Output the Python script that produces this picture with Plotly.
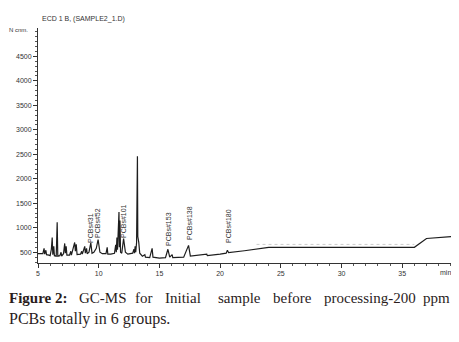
import plotly.graph_objects as go

# ---- data ----
rt_min = [5.0, 5.4, 5.5, 5.55, 5.65, 5.7, 5.9, 6.0, 6.1, 6.17, 6.22, 6.3, 6.35, 6.5, 6.58, 6.63,
          6.8, 6.9, 6.95, 7.1, 7.2, 7.25, 7.32, 7.38, 7.6, 7.7, 7.75, 7.95, 8.02, 8.08, 8.15, 8.22,
          8.5, 8.6, 8.65, 8.85, 8.9, 9.0, 9.05, 9.2, 9.35, 9.45, 9.6, 9.8, 9.95, 10.1, 10.3, 10.6,
          10.7, 10.75, 11.0, 11.3, 11.4, 11.45, 11.5, 11.55, 11.6, 11.63, 11.67, 11.7, 11.75, 11.8, 11.9,
          12.05, 12.2, 12.4, 12.8, 12.9, 12.95, 13.0, 13.05, 13.12, 13.14, 13.19, 13.22, 13.3, 13.38, 13.6,
          13.8, 13.85, 14.2, 14.4, 14.47, 15.0, 15.5, 15.7, 15.85, 16.05, 16.1, 17.0, 17.4, 17.55,
          18.9, 18.95, 20.0, 20.5, 20.6, 20.7, 22.0, 24.0, 36.0, 37.0, 39.1]
signal = [470, 470, 580, 460, 540, 450, 440, 430, 560, 800, 450, 620, 430, 420, 1110, 420,
          430, 500, 420, 470, 680, 480, 620, 440, 440, 520, 440, 600, 700, 520, 660, 450,
          460, 520, 460, 620, 480, 580, 470, 500, 690, 480, 500, 580, 760, 500, 470, 470,
          600, 460, 460, 480, 650, 500, 800, 550, 950, 700, 1320, 600, 1150, 500, 480,
          780, 500, 460, 480, 560, 480, 620, 500, 700, 2440, 2460, 820, 700, 480, 420,
          450, 400, 390, 580, 400, 380, 390, 560, 400, 450, 390, 400, 640, 420,
          460, 430, 460, 480, 540, 490, 530, 600, 600, 780, 820]

peak_labels = ["PCBs#31", "PCBs#52", "PCBs#101", "PCBs#153", "PCBs#138", "PCBs#180"]
peak_label_rt = [9.28, 9.94, 12.08, 15.70, 17.43, 20.64]
peak_label_base = [647, 750, 750, 586, 709, 647]

x_ticks = [5, 10, 15, 20, 25, 30, 35]
y_ticks = [500, 1000, 1500, 2000, 2500, 3000, 3500, 4000, 4500]

fig = go.Figure()
fig.add_trace(go.Scatter(x=rt_min, y=signal, mode="lines",
                         line=dict(color="#1e1e1e", width=1.2), hoverinfo="skip",
                         showlegend=False))
# faint dotted integration baseline
fig.add_trace(go.Scatter(x=[23.0, 36.0], y=[660, 660], mode="lines",
                         line=dict(color="#cccccc", width=1, dash="dot"),
                         showlegend=False, hoverinfo="skip"))

axis_font = dict(family="Liberation Sans, Arial, sans-serif", size=7, color="#333333")

# page body adds an 8px offset, so the figure is 8px smaller and margins shifted
PW, PH = 414, 235  # plot area size in px
fig.update_layout(
    width=451, height=334,
    margin=dict(l=30, r=7, t=20, b=79),
    paper_bgcolor="white", plot_bgcolor="white",
    xaxis=dict(range=[5, 39.1], tickvals=x_ticks, ticks="outside", ticklen=4,
               tickcolor="#333333", showline=True, linecolor="#333333", linewidth=1,
               showgrid=False, zeroline=False, tickfont=axis_font,
               minor=dict(dtick=1, ticks="outside", ticklen=2, tickcolor="#555555")),
    yaxis=dict(range=[280, 5080], tickvals=y_ticks, ticks="outside", ticklen=4,
               tickcolor="#333333", showline=True, linecolor="#333333", linewidth=1,
               showgrid=False, zeroline=False, tickfont=axis_font,
               minor=dict(dtick=100, ticks="outside", ticklen=2, tickcolor="#555555")),
)

anns = []
for lab, rt, base in zip(peak_labels, peak_label_rt, peak_label_base):
    anns.append(dict(x=rt, y=base, xref="x", yref="y", text=lab, textangle=-90,
                     showarrow=False, xanchor="center", yanchor="bottom",
                     font=dict(family="Liberation Sans, Arial, sans-serif", size=7, color="#333333")))

anns.append(dict(x=2 / PW, y=1 + 9 / PH, xref="paper", yref="paper", text="ECD 1 B, (SAMPLE2_1.D)",
                 showarrow=False, xanchor="left", yanchor="middle",
                 font=dict(family="Liberation Sans, Arial, sans-serif", size=7, color="#333333")))
anns.append(dict(x=-8 / PW, y=1 - 2 / PH, xref="paper", yref="paper", text="N cnm.",
                 showarrow=False, xanchor="right", yanchor="middle",
                 font=dict(family="Liberation Sans, Arial, sans-serif", size=6, color="#333333")))
anns.append(dict(x=407 / PW, y=-9 / PH, xref="paper", yref="paper", text="min",
                 showarrow=False, xanchor="center", yanchor="middle",
                 font=dict(family="Liberation Sans, Arial, sans-serif", size=7, color="#333333")))

# justified caption (first line placed word by word); px are reference-page pixels
cap_words = ["<b>Figure 2:</b>", "GC-MS", "for", "Initial", "sample", "before", "processing-200", "ppm"]
cap_px = [7, 77, 133, 163, 216, 271, 322, 452]
cap_font = dict(family="Liberation Serif, Times New Roman, serif", size=15, color="#2a1c1c")
for w, px in zip(cap_words, cap_px):
    anns.append(dict(x=(px - 38) / PW, y=(263 - 298) / PH, xref="paper", yref="paper", text=w,
                     showarrow=False, xanchor="right" if w == "ppm" else "left", yanchor="middle",
                     font=cap_font))
anns.append(dict(x=(7 - 38) / PW, y=(263 - 319) / PH, xref="paper", yref="paper",
                 text="PCBs totally in 6 groups.", showarrow=False, xanchor="left", yanchor="middle",
                 font=dict(family="Liberation Serif, Times New Roman, serif", size=16, color="#2a1c1c")))
fig.update_layout(annotations=anns)

fig.write_html("out.html")
